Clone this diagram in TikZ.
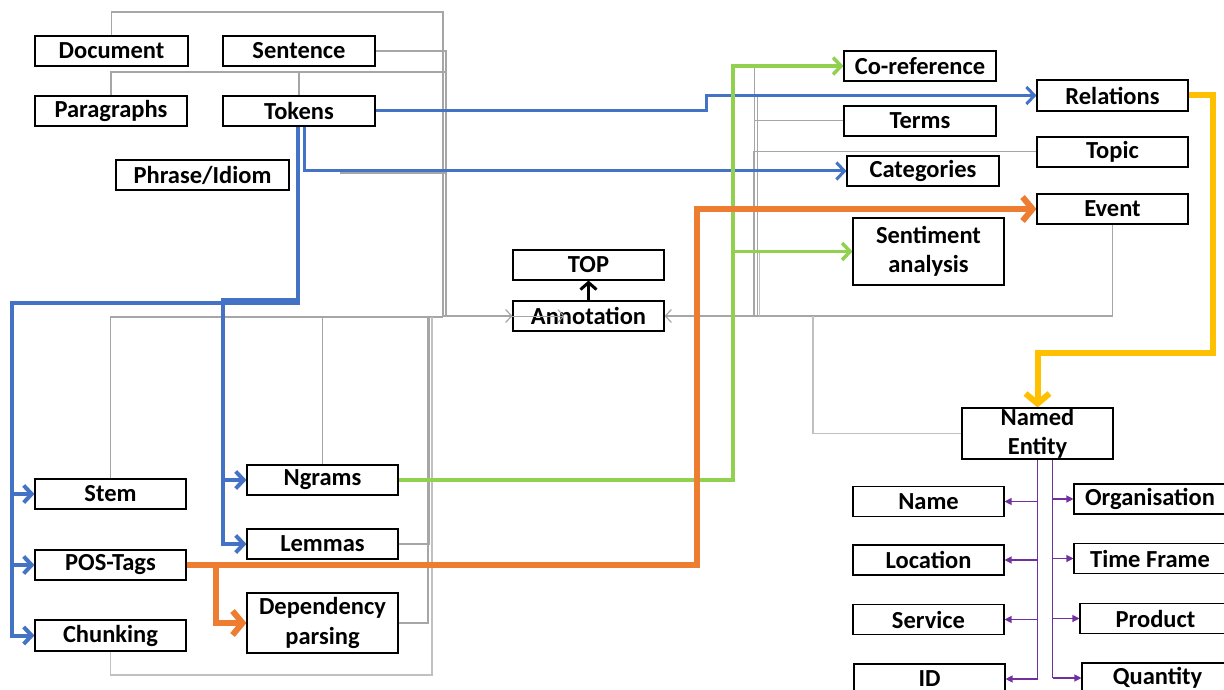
\documentclass[tikz,border=0pt]{standalone}
\usepackage{fontspec}
\setmainfont{Carlito}
\usetikzlibrary{arrows.meta}

\definecolor{cblue}{HTML}{4472C4}
\definecolor{cgreen}{HTML}{92D050}
\definecolor{corange}{HTML}{ED7D31}
\definecolor{cyellow}{HTML}{FFC000}
\definecolor{cpurple}{HTML}{7030A0}
\definecolor{cgrey}{HTML}{A6A6A6}
\definecolor{clgrey}{HTML}{C0C0C0}

\pgfdeclarelayer{paper}
\pgfdeclarelayer{wires}
\pgfsetlayers{paper,wires,main}

\begin{document}
\begin{tikzpicture}[x=1pt,y=-1pt,
  box/.style={draw=black, line width=1.1pt, fill=white, inner sep=0pt,
    minimum width=151pt, minimum height=30pt, align=center,
    font=\bfseries\fontsize{24.5}{29.5}\selectfont},
  gl/.style={draw=cgrey, line width=1.2pt},
  garr/.style={-{Straight Barb[length=6pt,width=13pt]}},
  bl/.style={draw=cblue, line width=3pt},
  blt/.style={draw=cblue, line width=4pt},
  gr/.style={draw=cgreen, line width=3.5pt},
  orl/.style={draw=corange, line width=6pt},
  yel/.style={draw=cyellow, line width=6pt},
  pline/.style={draw=cpurple, line width=1.4pt},
  parr/.style={draw=cpurple, line width=1.2pt, -{Triangle[length=7pt,width=7pt]}},
  barb/.style={-{Straight Barb[length=8pt,width=17pt]}},
  bigbarb/.style={-{Straight Barb[length=10pt,width=24pt]}}
]
\useasboundingbox (0,0) rectangle (1224,690);
\begin{pgfonlayer}{paper}
  \fill[white] (0,0) rectangle (1224,690);
\end{pgfonlayer}
\clip (0,0) rectangle (1224,690);

% ---- text units (top left) ----
\node[box, minimum width=153pt] (doc)   at (111.5,51)  {Document};
\node[box, minimum width=152pt] (sent)  at (299,51)    {Sentence};
\node[box, minimum width=152pt] (para)  at (111,111)   {Paragraphs};
\node[box, minimum width=152pt] (tok)   at (299,111)   {Tokens};
\node[box, minimum width=173pt] (phr)   at (202.5,175) {Phrase/Idiom};

% ---- centre ----
\node[box] (top) at (588.5,265) {TOP};
\node[box] (ann) at (588.5,316) {Annotation};

% ---- analyses (top right) ----
\node[box, minimum width=152pt] (coref) at (920,66)      {Co-reference};
\node[box, minimum height=31pt] (rel)   at (1112.5,95.5) {Relations};
\node[box, minimum width=152pt] (terms) at (920,121)     {Terms};
\node[box] (topic) at (1112.5,152) {Topic};
\node[box, minimum width=152pt] (cat)   at (923,171)     {Categories};
\node[box] (event) at (1112.5,209) {Event};
\node[box, minimum height=67pt] (senti) at (928.5,251.5) {Sentiment\\analysis};

% ---- named entities ----
\node[box, minimum height=51pt] (ne) at (1037.5,433.5) {Named\\Entity};
\node[box] (name) at (928.5,501.5) {Name};
\node[box] (loc)  at (928.5,560)   {Location};
\node[box] (serv) at (928.5,619.5) {Service};
\node[box] (id)   at (929.5,679)   {ID};
\node[box, minimum width=152pt] (org)  at (1150,499)   {Organisation};
\node[box, minimum width=152pt] (time) at (1150,558.5) {Time Frame};
\node[box] (prod) at (1155.5,618.5) {Product};
\node[box] (qty)  at (1157.5,678)   {Quantity};

% ---- word level (bottom left) ----
\node[box] (stem)  at (110.5,494)   {Stem};
\node[box] (pos)   at (110.5,565)   {POS-Tags};
\node[box, minimum height=31pt] (chunk) at (110.5,635.5) {Chunking};
\node[box] (ngram) at (322.5,480)   {Ngrams};
\node[box] (lemma) at (322.5,544)   {Lemmas};
\node[box, minimum height=60pt] (dep) at (322.5,623) {Dependency\\parsing};

\begin{pgfonlayer}{wires}
  % grey hierarchy, left part
  \draw[gl, garr] (doc.north) |- (443,12) -- (443,316) -- (ann.west);
  \draw[gl] (sent.east) -| (446,316);
  \draw[gl, line width=2pt] (para.north) |- (446,72) -- (446,316) -- (443,316);
  \draw[gl] (tok.north) -- ++(0,-24);
  \draw[gl] (340,173) -- (446,173);
  \draw[gl] (stem.north) |- (443,317);
  \draw[gl] (ngram.north) -- ++(0,-148);
  \draw[gl, line width=2pt] (lemma.east) -| (429,317);
  \draw[gl] (dep.east) -| (428,317);
  \draw[gl, draw=clgrey] (chunk.south) |- (432,675) -- (432,317);

  % grey hierarchy, right part
  \draw[gl, garr] (event.south) |- (ann.east);
  \draw[gl, line width=1pt] (coref.west) -| (754,316);
  \draw[gl, line width=1pt] (rel.west) -| (757,316);
  \draw[gl, line width=1pt] (terms.west) -- (754,121);
  \draw[gl, line width=1pt] (topic.west) -| (753,316);
  \draw[gl, line width=1pt, draw=clgrey] (senti.west) -| (759,316);
  \draw[gl, draw=clgrey] (ne.west) -| (813,316);

  % tokens feed
  \draw[bl, barb] (tok.east) -- ++(331,0) |- (rel.west);
  \draw[bl, barb] ([xshift=5pt]tok.south) |- (cat.west);
  \coordinate (lbus) at (12,303);
  \coordinate (mbus) at (223,300);
  \draw[blt, barb] ([xshift=-1pt]tok.south) |- (lbus) |- (chunk.west);
  \draw[blt, barb] (lbus |- stem.west) -- (stem.west);
  \draw[blt, barb] (lbus |- pos.west) -- (pos.west);
  \draw[blt, barb] ([xshift=-1pt]tok.south) |- (mbus) |- (lemma.west);
  \draw[blt, barb] (mbus |- ngram.west) -- (ngram.west);

  % ngrams feed
  \coordinate (gbus) at (733,66);
  \draw[gr, barb] (ngram.east) -| (gbus) -- (coref.west);
  \draw[gr, barb] (gbus |- senti.west) -- (senti.west);

  % POS feed
  \coordinate (obus) at (697,209);
  \coordinate (obr) at (216,565);
  \draw[orl, bigbarb] (pos.east) -| (obus) -- (event.west);
  \draw[orl, bigbarb] (obr) |- (dep.west);

  % relations to named entity
  \draw[yel, bigbarb] (rel.east) -| (1213,353) -| (ne.north);

  % named entity types
  \coordinate (pr) at ([xshift=15pt]ne.south);
  \draw[pline] (ne.south) -- (ne.south |- id.east);
  \draw[parr] (ne.south |- name.east) -- (name.east);
  \draw[parr] (ne.south |- loc.east) -- (loc.east);
  \draw[parr] (ne.south |- serv.east) -- (serv.east);
  \draw[parr] (ne.south |- id.east) -- (id.east);
  \draw[pline] (pr) -- (pr |- qty.west);
  \draw[parr] (pr |- org.west) -- (org.west);
  \draw[parr] (pr |- time.west) -- (time.west);
  \draw[parr] (pr |- prod.west) -- (prod.west);
  \draw[parr] (pr |- qty.west) -- (qty.west);
\end{pgfonlayer}

% annotation to top
\draw[line width=3pt, -{Straight Barb[length=7pt,width=16pt]}] (ann.north) -- (top.south);
% stray pointer over the annotation label
\draw[gl, line width=1pt, garr] (ann.west) -- ++(52,0);
\end{tikzpicture}
\end{document}
